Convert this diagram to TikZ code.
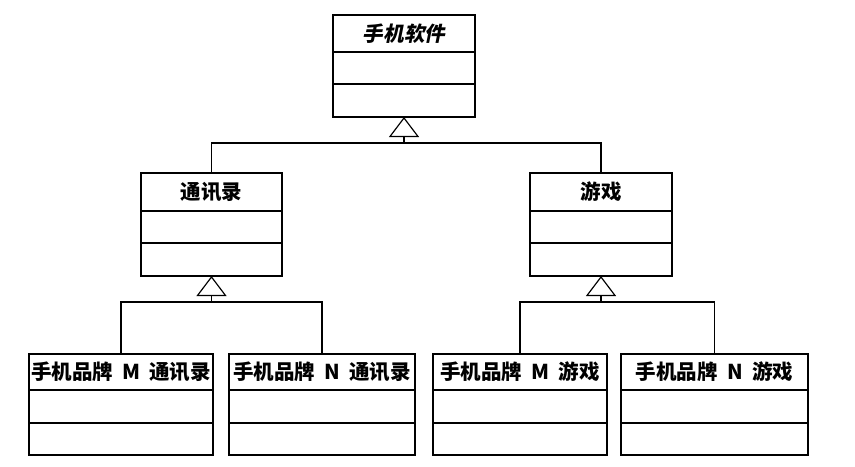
\documentclass[tikz,border=0pt]{standalone}
\usepackage{fontspec}
\newfontfamily\cjk{Noto Sans CJK SC}
\newfontfamily\cjkslant{Noto Sans CJK SC}[FakeSlant=0.2]
\usetikzlibrary{arrows.meta,positioning}
\newlength\px
\setlength\px{0.03cm}
\newcommand\gap{\hspace{0.45em}}

\begin{document}
\begin{tikzpicture}[x=0.03cm,y=-0.03cm,
  cpart/.style={draw, line width=1.4pt, outer sep=0pt, inner sep=0pt},
  ctitle/.style={cpart, minimum height=37*\px, font=\cjk\fontsize{17.5pt}{20pt}\selectfont\bfseries},
  link/.style={line width=1pt},
  gen/.style={line width=1pt, -{Triangle[open, length=0.6cm, width=0.9cm]}}]
\useasboundingbox (0,0) rectangle (855,466);

% abstract class
\node [ctitle, minimum width=142*\px, font=\cjkslant\fontsize{17.5pt}{20pt}\selectfont\bfseries] (soft) at (404,33.5) {手机软件};
\node [cpart, minimum width=142*\px, minimum height=32*\px, below=0pt of soft] (soft1) {};
\node [cpart, minimum width=142*\px, minimum height=33*\px, below=0pt of soft1] (soft2) {};

% middle classes
\node [ctitle, minimum width=141*\px, minimum height=38*\px] (contacts) at (211.5,192) {通讯录};
\node [cpart, minimum width=141*\px, minimum height=32*\px, below=0pt of contacts] (contacts1) {};
\node [cpart, minimum width=141*\px, minimum height=33*\px, below=0pt of contacts1] (contacts2) {};

\node [ctitle, minimum width=142*\px, minimum height=38*\px] (games) at (601,192) {游戏};
\node [cpart, minimum width=142*\px, minimum height=32*\px, below=0pt of games] (games1) {};
\node [cpart, minimum width=142*\px, minimum height=33*\px, below=0pt of games1] (games2) {};

% brand classes
\node [ctitle, minimum width=184*\px, minimum height=36*\px] (mcontacts) at (121,372) {手机品牌\gap M\gap 通讯录};
\node [cpart, minimum width=184*\px, minimum height=33*\px, below=0pt of mcontacts] (mcontacts1) {};
\node [cpart, minimum width=184*\px, minimum height=32*\px, below=0pt of mcontacts1] (mcontacts2) {};

\node [ctitle, minimum width=186*\px, minimum height=36*\px] (ncontacts) at (322,372) {手机品牌\gap N\gap 通讯录};
\node [cpart, minimum width=186*\px, minimum height=33*\px, below=0pt of ncontacts] (ncontacts1) {};
\node [cpart, minimum width=186*\px, minimum height=32*\px, below=0pt of ncontacts1] (ncontacts2) {};

\node [ctitle, minimum width=174*\px, minimum height=36*\px] (mgames) at (520,372) {手机品牌\gap M\gap 游戏};
\node [cpart, minimum width=174*\px, minimum height=33*\px, below=0pt of mgames] (mgames1) {};
\node [cpart, minimum width=174*\px, minimum height=32*\px, below=0pt of mgames1] (mgames2) {};

\node [ctitle, minimum width=187*\px, minimum height=36*\px] (ngames) at (714.5,372) {手机品牌\gap N\gap 游戏};
\node [cpart, minimum width=187*\px, minimum height=33*\px, below=0pt of ngames] (ngames1) {};
\node [cpart, minimum width=187*\px, minimum height=32*\px, below=0pt of ngames1] (ngames2) {};

% generalisation
\coordinate (j0) at (soft2.south |- 0,143);
\coordinate (j1) at (contacts2.south |- 0,302);
\coordinate (j2) at (games2.south |- 0,302);

\draw [link] (contacts.north) |- (j0) -| (games.north);
\draw [gen] (j0) -- (soft2.south);

\draw [link] (mcontacts.north) |- (j1) -| (ncontacts.north);
\draw [gen] (j1) -- (contacts2.south);

\draw [link] (mgames.north) |- (j2) -| (ngames.north);
\draw [gen] (j2) -- (games2.south);

\end{tikzpicture}
\end{document}
